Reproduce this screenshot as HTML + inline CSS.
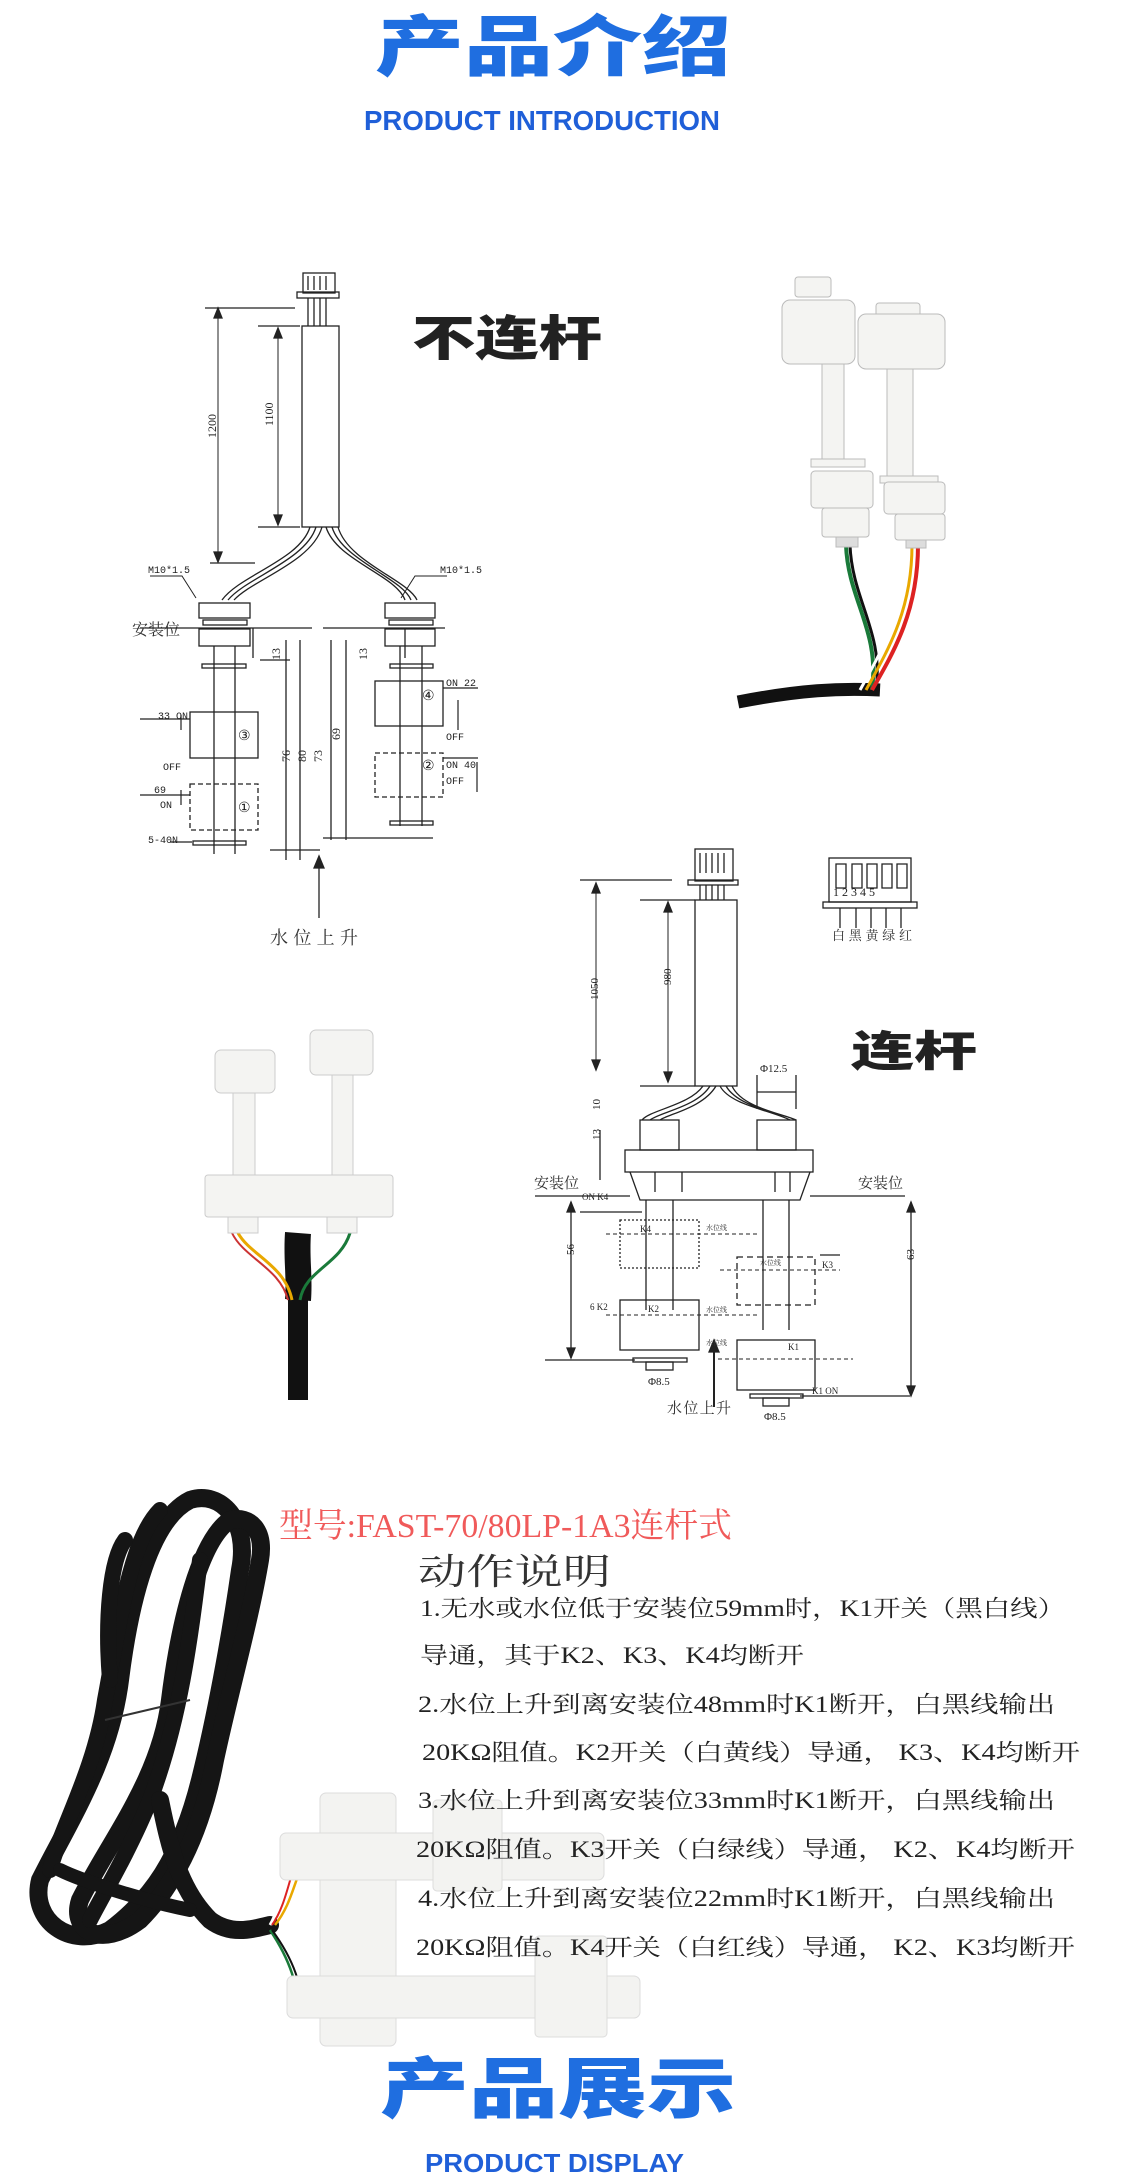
<!DOCTYPE html>
<html><head><meta charset="utf-8"><style>
html,body{margin:0;padding:0;background:#fff;}
svg{display:block;}
</style></head><body>
<svg width="1134" height="2183" viewBox="0 0 1134 2183" xmlns="http://www.w3.org/2000/svg">
<rect width="1134" height="2183" fill="#fff"/>
<!-- Titles -->
<text x="375" y="70" font-family="Noto Sans CJK SC, sans-serif" font-weight="900" font-size="66" fill="#1f6ee0" textLength="356" lengthAdjust="spacingAndGlyphs">产品介绍</text>
<text x="364" y="130" font-family="Liberation Sans, sans-serif" font-weight="bold" font-size="28" fill="#1f5fd8" textLength="356" lengthAdjust="spacingAndGlyphs">PRODUCT INTRODUCTION</text>

<!-- Diagram 1 -->
<g stroke="#222" stroke-width="1.3" fill="none" font-family="Liberation Serif, Noto Serif CJK SC, serif">
<rect x="303" y="273" width="32" height="20"/>
<rect x="297" y="292" width="42" height="6"/>
<path d="M308 276v14M314 276v14M320 276v14M326 276v14"/>
<path d="M308 298v28M314 298v28M320 298v28M326 298v28"/>
<rect x="302" y="326" width="37" height="201"/>
<path d="M205 308h90M258 326h42M258 527h42M210 563h45"/>
<path d="M218 310v250M278 330v195" stroke-width="1"/>
<path d="M214 318l4-10 4 10zM214 552l4 10 4-10zM274 338l4-10 4 10zM274 515l4 10 4-10z" fill="#222"/>
<path d="M310 527 C300 560 240 575 222 600 M316 527 C306 560 246 578 228 600 M322 527 C312 562 252 580 234 600"/>
<path d="M326 527 C336 560 396 575 405 600 M332 527 C342 560 402 578 411 600 M338 527 C348 562 408 580 417 600"/>
<rect x="199" y="603" width="51" height="15"/><rect x="203" y="620" width="44" height="5"/><rect x="199" y="629" width="51" height="17"/>
<rect x="385" y="603" width="50" height="15"/><rect x="389" y="620" width="44" height="5"/><rect x="385" y="629" width="50" height="17"/>
<path d="M140 628h172M323 628h122"/>
<path d="M214 646v208M235 646v208M400 646v180M422 646v180"/>
<rect x="202" y="664" width="44" height="4"/><rect x="390" y="664" width="43" height="4"/>
<rect x="190" y="712" width="68" height="46"/>
<rect x="190" y="784" width="68" height="46" stroke-dasharray="5 3"/>
<rect x="193" y="841" width="53" height="4"/>
<rect x="375" y="681" width="68" height="45"/>
<rect x="375" y="753" width="68" height="44" stroke-dasharray="5 3"/>
<rect x="390" y="821" width="43" height="4"/>
<path d="M140 719h50M140 795h50M260 660h30M270 850h50M170 842h22M443 688h35M443 758h35M323 838h110"/>
<path d="M253 628v30M405 628v30M286 640v220M300 640v220M331 640v200M346 640v200"/>
<path d="M181 730v-15M181 790v15M458 700v30M477 762v30" stroke-width="1.2"/>
<path d="M319 856l-5 12h10z" fill="#222"/>
<path d="M319 868v50"/>
<path d="M150 576h32l14 22M447 576h-32l-14 22" stroke-width="1"/>
</g>
<g font-family="Liberation Mono, monospace" font-size="10" fill="#222">
<text x="148" y="573">M10*1.5</text><text x="440" y="573">M10*1.5</text>
<text x="158" y="719">33 ON</text><text x="163" y="770">OFF</text><text x="154" y="793">69</text><text x="160" y="808">ON</text><text x="148" y="843">5-40N</text>
<text x="446" y="686">ON 22</text><text x="446" y="740">OFF</text><text x="446" y="768">ON 40</text><text x="446" y="784">OFF</text>
<text x="238" y="740" font-size="14">③</text><text x="238" y="812" font-size="14">①</text>
<text x="422" y="700" font-size="14">④</text><text x="422" y="770" font-size="14">②</text>
</g>
<g font-family="Liberation Serif, serif" font-size="12" fill="#222">
<text transform="translate(216,438) rotate(-90)">1200</text>
<text transform="translate(273,426) rotate(-90)">1100</text>
<text transform="translate(280,660) rotate(-90)">13</text>
<text transform="translate(367,660) rotate(-90)">13</text>
<text transform="translate(290,762) rotate(-90)">76</text>
<text transform="translate(306,762) rotate(-90)">80</text>
<text transform="translate(322,762) rotate(-90)">73</text>
<text transform="translate(340,740) rotate(-90)">69</text>
</g>
<text x="132" y="635" font-family="Noto Serif CJK SC, serif" font-size="16" fill="#333">安装位</text>
<text x="270" y="944" font-family="Noto Serif CJK SC, serif" font-size="18" fill="#333" textLength="88">水位上升</text>
<text x="412" y="355" font-family="Noto Sans CJK SC, sans-serif" font-weight="900" font-size="48" fill="#222" textLength="190" lengthAdjust="spacingAndGlyphs">不连杆</text>

<!-- Photo 1 -->
<g>
<path d="M738 702 C800 690 840 688 880 690" stroke="#111" stroke-width="13" fill="none"/>
<path d="M846 545 C848 600 880 630 872 690" stroke="#1a7a3a" stroke-width="4" fill="none"/>
<path d="M850 545 C852 600 884 632 876 690" stroke="#111" stroke-width="3" fill="none"/>
<path d="M918 545 C918 610 895 650 872 690" stroke="#d22" stroke-width="4" fill="none"/>
<path d="M912 545 C912 610 888 650 866 690" stroke="#e9a800" stroke-width="3" fill="none"/>
<path d="M906 545 C906 610 882 650 860 690" stroke="#fff" stroke-width="3" fill="none"/>
<g fill="#f4f4f2" stroke="#bbb" stroke-width="1">
<rect x="795" y="277" width="36" height="20" rx="3"/>
<rect x="782" y="300" width="73" height="64" rx="8"/>
<rect x="822" y="364" width="22" height="98"/>
<rect x="811" y="459" width="54" height="8"/>
<rect x="811" y="471" width="62" height="37" rx="4"/>
<rect x="822" y="508" width="47" height="29" rx="3"/>
<rect x="836" y="537" width="22" height="10" fill="#ddd"/>
<rect x="876" y="303" width="44" height="14" rx="3"/>
<rect x="858" y="314" width="87" height="55" rx="8"/>
<rect x="887" y="369" width="26" height="110"/>
<rect x="880" y="476" width="58" height="7"/>
<rect x="884" y="482" width="61" height="32" rx="4"/>
<rect x="895" y="514" width="50" height="26" rx="3"/>
<rect x="906" y="540" width="20" height="8" fill="#ddd"/>
</g>
</g>

<!-- Diagram 2 -->
<g stroke="#222" stroke-width="1.3" fill="none">
<rect x="695" y="849" width="38" height="32"/>
<path d="M700 853v20M706 853v20M712 853v20M718 853v20M724 853v20"/>
<rect x="688" y="880" width="50" height="5"/>
<path d="M700 885v15M706 885v15M712 885v15M718 885v15M724 885v15"/>
<rect x="695" y="900" width="42" height="186"/>
<path d="M580 880h92M640 900h55M640 1086h55"/>
<path d="M596 884v184M668 904v176" stroke-width="1"/>
<path d="M592 893l4-10 4 10zM592 1060l4 10 4-10zM664 912l4-10 4 10zM664 1072l4 10 4-10z" fill="#222"/>
<path d="M703 1086 C690 1105 650 1110 642 1120 M710 1086 C697 1107 660 1112 650 1120 M716 1086 C703 1108 668 1114 660 1120"/>
<path d="M720 1086 C730 1105 770 1110 790 1120 M726 1086 C738 1107 778 1112 796 1120 M732 1086 C742 1108 784 1114 796 1120"/>
<rect x="640" y="1120" width="39" height="30"/><rect x="757" y="1120" width="39" height="30"/>
<rect x="625" y="1150" width="188" height="22"/>
<path d="M630 1172l10 28h160l10-28"/>
<path d="M535 1196h95M810 1196h95"/>
<path d="M646 1200v110M673 1200v110M763 1200v130M789 1200v130"/>
<path d="M655 1172v20M790 1172v20M775 1172v20M682 1172v20"/>
<rect x="620" y="1220" width="79" height="48" stroke-dasharray="2 2"/>
<rect x="737" y="1257" width="78" height="48" stroke-dasharray="6 4"/>
<rect x="620" y="1300" width="79" height="50"/>
<rect x="737" y="1340" width="78" height="50"/>
<path d="M606 1234h154M606 1315h154M718 1359h135M720 1270h120" stroke-dasharray="4 3" stroke-width="1"/>
<rect x="633" y="1358" width="54" height="4"/><rect x="646" y="1362" width="27" height="8"/>
<rect x="750" y="1394" width="53" height="4"/><rect x="763" y="1398" width="26" height="8"/>
<path d="M545 1360h90M800 1396h110M580 1212h62M820 1255h20"/>
<path d="M571 1202v156M911 1202v192M600 1130v50M757 1075v34M796 1075v34M757 1092h39"/>
<path d="M567 1212l4-10 4 10zM567 1348l4 10 4-10zM907 1212l4-10 4 10zM907 1386l4 10 4-10z" fill="#222"/>
<path d="M714 1340l-5 12h10z" fill="#222"/><path d="M714 1352v55" stroke-width="2"/>
<rect x="829" y="858" width="82" height="44"/>
<rect x="823" y="902" width="94" height="6"/>
<path d="M836 864h10v24h-10zM852 864h10v24h-10zM867 864h10v24h-10zM882 864h10v24h-10zM897 864h10v24h-10z"/>
<path d="M840 908v20M856 908v20M871 908v20M886 908v20M901 908v20"/>
</g>
<g font-family="Liberation Serif, serif" font-size="11" fill="#222">
<text transform="translate(598,1000) rotate(-90)">1050</text>
<text transform="translate(671,985) rotate(-90)">980</text>
<text transform="translate(600,1110) rotate(-90)">10</text>
<text transform="translate(600,1140) rotate(-90)">13</text>
<text transform="translate(574,1255) rotate(-90)">56</text>
<text transform="translate(914,1260) rotate(-90)">63</text>
<text x="760" y="1072">Φ12.5</text>
<text x="648" y="1385">Φ8.5</text><text x="764" y="1420">Φ8.5</text>
<text x="582" y="1200" font-size="9">ON K4</text><text x="640" y="1232" font-size="9">K4</text>
<text x="590" y="1310" font-size="9">6 K2</text><text x="648" y="1312" font-size="9">K2</text>
<text x="822" y="1268" font-size="9">K3</text><text x="788" y="1350" font-size="9">K1</text><text x="812" y="1394" font-size="9">K1 ON</text>
<text x="833" y="896" font-size="12">1 2 3 4 5</text>
</g>
<g font-family="Noto Serif CJK SC, serif" fill="#333">
<text x="706" y="1230" font-size="7">水位线</text><text x="760" y="1265" font-size="7">水位线</text>
<text x="706" y="1312" font-size="7">水位线</text><text x="706" y="1345" font-size="7">水位线</text>
<text x="534" y="1188" font-size="15">安装位</text><text x="858" y="1188" font-size="15">安装位</text>
<text x="832" y="940" font-size="13" textLength="80">白黑黄绿红</text>
<text x="667" y="1413" font-size="15" textLength="64">水位上升</text>
</g>
<text x="851" y="1066" font-family="Noto Sans CJK SC, sans-serif" font-weight="900" font-size="42" fill="#222" textLength="126" lengthAdjust="spacingAndGlyphs">连杆</text>

<!-- Photo 2 -->
<g>
<path d="M298 1233 C296 1260 300 1275 298 1300" stroke="#111" stroke-width="26" fill="none"/>
<rect x="288" y="1295" width="20" height="105" fill="#111"/>
<path d="M238 1233 C250 1255 285 1265 292 1300" stroke="#e9a800" stroke-width="3" fill="none"/>
<path d="M232 1233 C244 1258 280 1268 288 1300" stroke="#c33" stroke-width="2" fill="none"/>
<path d="M350 1233 C340 1265 305 1270 300 1300" stroke="#1a7a3a" stroke-width="3" fill="none"/>
<g fill="#f4f4f2" stroke="#ccc">
<rect x="215" y="1050" width="60" height="43" rx="6"/>
<rect x="233" y="1093" width="22" height="82"/>
<rect x="310" y="1030" width="63" height="45" rx="6"/>
<rect x="332" y="1075" width="21" height="100"/>
<rect x="205" y="1175" width="188" height="42" rx="3"/>
<rect x="228" y="1217" width="30" height="16"/><rect x="327" y="1217" width="30" height="16"/>
</g>
</g>

<!-- Photo 3: cable -->
<g fill="none" stroke="#151515" stroke-linecap="round">
<path d="M190 1500 C150 1520 130 1600 120 1680 C110 1760 70 1820 40 1880 C30 1920 70 1950 110 1930 C150 1900 180 1860 200 1780 C215 1720 230 1640 240 1570 C250 1520 220 1490 190 1500" stroke-width="18"/>
<path d="M230 1520 C200 1540 180 1620 170 1700 C160 1780 110 1840 80 1900 C70 1930 100 1950 140 1920 C170 1890 200 1840 215 1760 C230 1690 250 1620 260 1560 C265 1530 250 1515 230 1520" stroke-width="18"/>
<path d="M160 1510 C130 1540 120 1620 105 1700 C95 1770 60 1830 50 1870" stroke-width="16"/>
<path d="M125 1540 C110 1560 105 1620 110 1680" stroke-width="16"/>
<path d="M200 1560 C190 1640 180 1720 150 1800 C130 1850 100 1900 90 1920" stroke-width="16"/>
<path d="M160 1800 C170 1850 180 1890 210 1920 C230 1935 250 1930 270 1925" stroke-width="18"/>
<path d="M60 1870 C80 1880 140 1900 190 1910" stroke-width="14"/>
</g>
<path d="M105 1720 L190 1700" stroke="#333" stroke-width="2"/>
<path d="M270 1925 C285 1900 285 1850 300 1840" stroke="#fff" stroke-width="3" fill="none"/>
<path d="M272 1925 C290 1900 290 1860 305 1850" stroke="#d22" stroke-width="2" fill="none"/>
<path d="M275 1925 C295 1900 295 1870 308 1860" stroke="#e9a800" stroke-width="2.5" fill="none"/>
<path d="M270 1930 C290 1960 300 1990 295 2005" stroke="#1a7a3a" stroke-width="2.5" fill="none"/>
<path d="M272 1930 C294 1960 304 1990 299 2005" stroke="#111" stroke-width="2" fill="none"/>
<g fill="#f3f3f1" stroke="#dcdcdc">
<rect x="320" y="1793" width="76" height="253" rx="6"/>
<rect x="280" y="1833" width="324" height="47" rx="6"/>
<rect x="433" y="1800" width="69" height="91" rx="4"/>
<rect x="287" y="1976" width="353" height="42" rx="6"/>
<rect x="535" y="1936" width="72" height="101" rx="4"/>
</g>

<!-- Bottom text -->
<text x="279" y="1537" font-family="Liberation Serif, Noto Serif CJK SC, serif" font-size="34" fill="#f05a5a" textLength="453" lengthAdjust="spacingAndGlyphs">型号:FAST-70/80LP-1A3连杆式</text>
<text x="418" y="1584" font-family="Noto Serif CJK SC, serif" font-size="36" fill="#333" textLength="193" lengthAdjust="spacingAndGlyphs">动作说明</text>
<g font-family="Liberation Serif, Noto Serif CJK SC, serif" font-size="23" fill="#222">
<text x="420" y="1616" textLength="645" lengthAdjust="spacingAndGlyphs">1.无水或水位低于安装位59mm时，K1开关（黑白线）</text>
<text x="420" y="1663" textLength="384" lengthAdjust="spacingAndGlyphs">导通，其于K2、K3、K4均断开</text>
<text x="418" y="1712" textLength="637" lengthAdjust="spacingAndGlyphs">2.水位上升到离安装位48mm时K1断开，白黑线输出</text>
<text x="422" y="1760" textLength="658" lengthAdjust="spacingAndGlyphs">20KΩ阻值。K2开关（白黄线）导通， K3、K4均断开</text>
<text x="418" y="1808" textLength="637" lengthAdjust="spacingAndGlyphs">3.水位上升到离安装位33mm时K1断开，白黑线输出</text>
<text x="416" y="1857" textLength="659" lengthAdjust="spacingAndGlyphs">20KΩ阻值。K3开关（白绿线）导通， K2、K4均断开</text>
<text x="418" y="1906" textLength="637" lengthAdjust="spacingAndGlyphs">4.水位上升到离安装位22mm时K1断开，白黑线输出</text>
<text x="416" y="1955" textLength="659" lengthAdjust="spacingAndGlyphs">20KΩ阻值。K4开关（白红线）导通， K2、K3均断开</text>
</g>
<text x="380" y="2112" font-family="Noto Sans CJK SC, sans-serif" font-weight="900" font-size="66" fill="#1f6ee0" textLength="356" lengthAdjust="spacingAndGlyphs">产品展示</text>
<text x="425" y="2172" font-family="Liberation Sans, sans-serif" font-weight="bold" font-size="26" fill="#1f5fd8" textLength="259" lengthAdjust="spacingAndGlyphs">PRODUCT DISPLAY</text>
</svg>
</body></html>
